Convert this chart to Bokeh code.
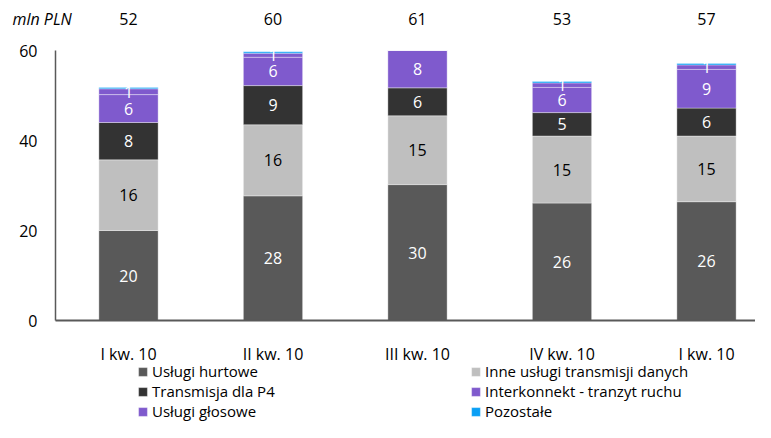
import numpy as np
from bokeh.plotting import figure
from bokeh.models import ColumnDataSource, Legend, LegendItem, FixedTicker, Range1d, Label
from bokeh.core.properties import value
from bokeh.embed import file_html
from bokeh.resources import INLINE

# ---- data ----
quarters = ["I kw. 10", "II kw. 10", "III kw. 10", "IV kw. 10", "I kw. 10"]
series_names = ["Usługi hurtowe", "Inne usługi transmisji danych", "Transmisja dla P4",
                "Interkonnekt - tranzyt ruchu", "Usługi głosowe", "Pozostałe"]
uslugi_hurtowe = [20.0, 27.7, 30.2, 26.1, 26.4]
inne_uslugi = [15.7, 15.8, 15.3, 14.9, 14.6]
transmisja_p4 = [8.3, 8.7, 6.2, 5.2, 6.2]
interkonnekt = [6.2, 6.3, 8.4, 5.6, 8.6]
uslugi_glosowe = [1.3, 0.9, 0.6, 1.0, 1.0]
pozostale = [0.3, 0.3, 0.3, 0.3, 0.3]
y_ticks = [0, 20, 40, 60]
unit_label = "mln PLN"

# ---- styles / layout ----
colors = ["#595959", "#bfbfbf", "#333333", "#7f5acd", "#7f5acd", "#0a9ff5"]
label_colors = ["white", "black", "white", "white", "white", None]
FONT = "Open Sans"
W, H = 755, 422
ZERO_PX = 320          # canvas y of value 0
PX_PER_UNIT = 4.5
X_UNIT = 144.5         # px per category
FIRST_CENTER = 128     # canvas x of first bar
YAXIS_PX = 55          # canvas x of the y axis
YMAX = y_ticks[-1]

series = [uslugi_hurtowe, inne_uslugi, transmisja_p4, interkonnekt, uslugi_glosowe, pozostale]
x = np.arange(len(quarters))
x_start = -FIRST_CENTER / X_UNIT
x_end = x_start + W / X_UNIT
y_end = ZERO_PX / PX_PER_UNIT
y_start = -(H - ZERO_PX) / PX_PER_UNIT
yaxis_x = (YAXIS_PX - FIRST_CENTER) / X_UNIT

def y_at(px):
    return (ZERO_PX - px) / PX_PER_UNIT

def x_at(px):
    return (px - FIRST_CENTER) / X_UNIT

p = figure(width=W, height=H, output_backend="svg", toolbar_location=None,
           x_range=Range1d(x_start, x_end), y_range=Range1d(y_start, y_end),
           min_border=0)
p.outline_line_color = None
p.xgrid.visible = False
p.ygrid.visible = False

renderers = []
cum = np.zeros(len(quarters))
lab_x, lab_y, lab_t, lab_c = [], [], [], []
for name, vals, col, lc in zip(series_names, series, colors, label_colors):
    vals = np.array(vals, dtype=float)
    bottom = cum.copy()
    top = cum + vals
    src = ColumnDataSource(dict(x=x, bottom=np.minimum(bottom, YMAX), top=np.minimum(top, YMAX)))
    r = p.vbar(x="x", bottom="bottom", top="top", width=0.41, source=src,
               fill_color=col, line_color="white", line_alpha=0.35, line_width=1)
    renderers.append(r)
    if lc is not None:
        for i in range(len(quarters)):
            mid = (bottom[i] + top[i]) / 2
            if mid < YMAX:
                lab_x.append(x[i]); lab_y.append(mid)
                lab_t.append(f"{vals[i]:.0f}"); lab_c.append(lc)
    cum = top

lsrc = ColumnDataSource(dict(x=lab_x, y=lab_y, t=lab_t, c=lab_c))
p.text(x="x", y="y", text="t", source=lsrc, text_color="c", text_align="center",
       text_baseline="middle", text_font=value(FONT), text_font_size="16px")

totals = [f"{t:.0f}" for t in cum]
tsrc = ColumnDataSource(dict(x=x, y=[y_at(18)] * len(x), t=totals))
p.text(x="x", y="y", text="t", source=tsrc, text_color="black", text_align="center",
       text_baseline="middle", text_font=value(FONT), text_font_size="16px")

p.add_layout(Label(x=x_at(12), y=y_at(18), text=unit_label, text_font=FONT,
                   text_font_size="16px", text_font_style="italic",
                   text_baseline="middle", text_align="left", text_color="black"))

# axes (placed inside the full-canvas frame)
p.xaxis.fixed_location = 0
p.xaxis.bounds = (yaxis_x, x_end)
p.xaxis.ticker = FixedTicker(ticks=list(x))
p.xaxis.major_label_overrides = {int(i): q for i, q in zip(x, quarters)}
p.xaxis.major_tick_out = 0
p.xaxis.major_tick_in = 0
p.xaxis.minor_tick_out = 0
p.xaxis.minor_tick_in = 0
p.xaxis.axis_line_color = "#595959"
p.xaxis.axis_line_width = 2
p.xaxis.major_label_standoff = 22
p.xaxis.major_label_text_font = FONT
p.xaxis.major_label_text_font_size = "16px"
p.xaxis.major_label_text_color = "black"

p.yaxis.fixed_location = yaxis_x
p.yaxis.ticker = FixedTicker(ticks=y_ticks)
p.yaxis.bounds = (0, YMAX)
p.yaxis.major_tick_out = 0
p.yaxis.major_tick_in = 0
p.yaxis.minor_tick_out = 0
p.yaxis.minor_tick_in = 0
p.yaxis.axis_line_color = "#595959"
p.yaxis.axis_line_width = 1.5
p.yaxis.major_label_standoff = 18
p.yaxis.major_label_text_font = FONT
p.yaxis.major_label_text_font_size = "16px"
p.yaxis.major_label_text_color = "black"

def make_legend(idx, loc):
    items = [LegendItem(label=series_names[i], renderers=[renderers[i]]) for i in idx]
    return Legend(items=items, location=loc, orientation="vertical",
                  glyph_width=11, glyph_height=11, label_standoff=4, label_height=20,
                  spacing=0, padding=0, margin=0, border_line_color=None,
                  background_fill_alpha=0, label_text_font=FONT,
                  label_text_font_size="15px", label_text_color="black")

p.add_layout(make_legend([0, 2, 4], (137, 1)), "center")
p.add_layout(make_legend([1, 3, 5], (470, 1)), "center")

open("out.html", "w").write(file_html(p, INLINE))
